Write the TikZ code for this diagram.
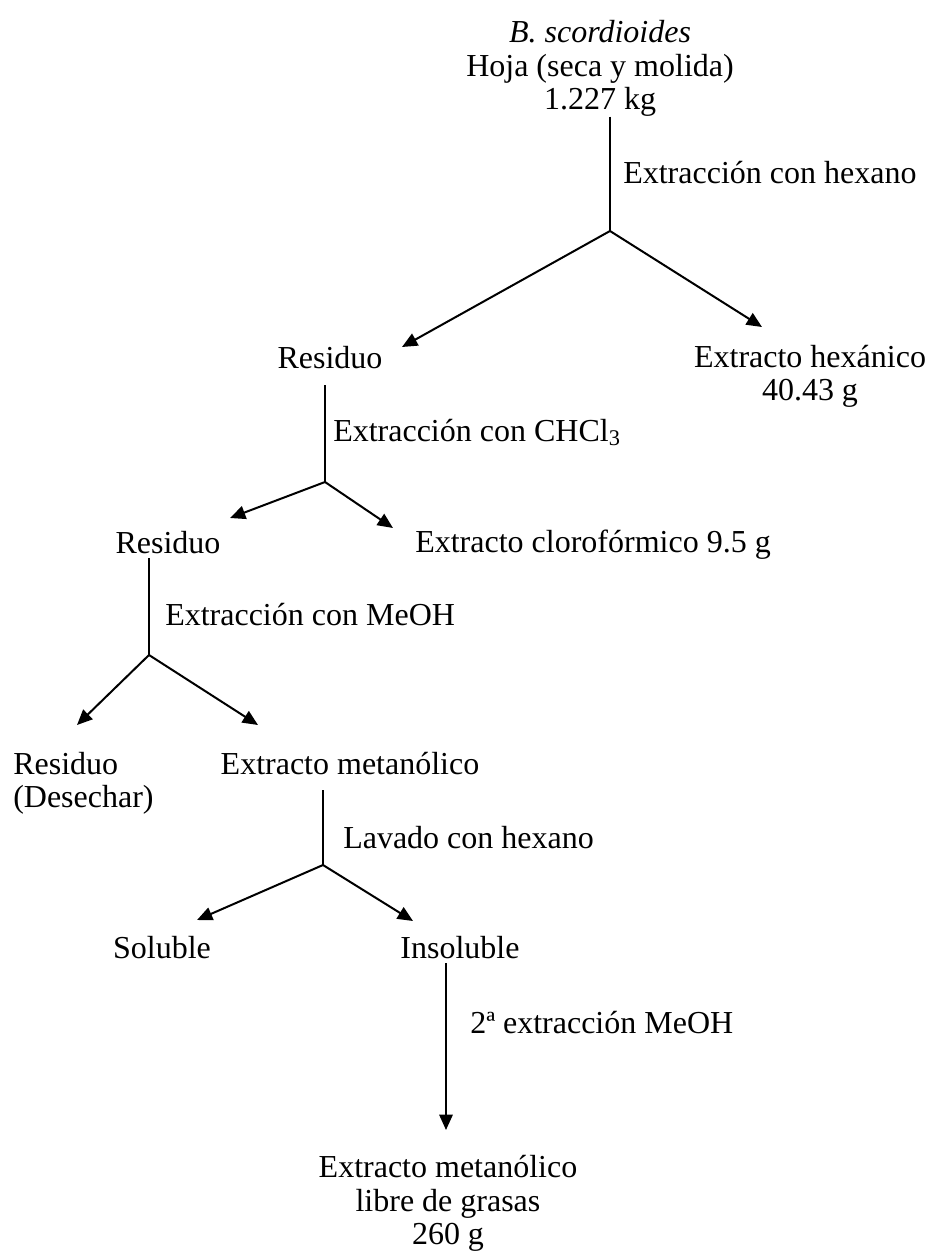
\documentclass[tikz,border=0pt]{standalone}
\usepackage{fontspec}
\setmainfont{Liberation Serif}
\usetikzlibrary{arrows.meta}
\begin{document}
\begin{tikzpicture}[x=0.75pt,y=-0.75pt,
  txt/.style={inner sep=0pt, font=\fontsize{24}{25}\selectfont, anchor=base},
  lbl/.style={inner sep=0pt, font=\fontsize{24}{25}\selectfont, anchor=base west},
  ln/.style={line width=1.5pt},
  arr/.style={line width=1.5pt, -{Triangle[length=11.5pt,width=10pt]}}]
\fill[white] (0,0) rectangle (930,1259);
\useasboundingbox (0,0) rectangle (930,1259);

% top
\node[txt, align=center, anchor=center] (top) at (600,68.5) {\textit{B. scordioides}\\Hoja (seca y molida)\\1.227 kg};
\coordinate (j1) at (610,231);
\coordinate (t1l) at (402,347);
\coordinate (t1r) at (762,327);
\draw[ln] (top.south -| j1) -- (j1);
\draw[arr] (j1) -- (t1l);
\draw[arr] (j1) -- (t1r);
\node[lbl] (l1) at (623,183) {Extracción con hexano};

\node[txt] (res1) at (330,368) {Residuo};
\node[txt, align=center, anchor=center] (hex) at (810,376.5) {Extracto hexánico\\40.43 g};

% level 2
\coordinate (s2) at (325,385);
\coordinate (j2) at (325,482);
\coordinate (t2l) at (230,518);
\coordinate (t2r) at (393,528);
\draw[ln] (s2) -- (j2);
\draw[arr] (j2) -- (t2l);
\draw[arr] (j2) -- (t2r);
\node[lbl] (l2) at (333,441) {Extracción con CHCl\textsubscript{3}};

\node[txt] (res2) at (168,553) {Residuo};
\node[lbl] (clo) at (415,552) {Extracto clorofórmico 9.5 g};

% level 3
\coordinate (s3) at (149,558);
\coordinate (j3) at (149,655);
\coordinate (t3l) at (77,725);
\coordinate (t3r) at (258,725);
\draw[ln] (s3) -- (j3);
\draw[arr] (j3) -- (t3l);
\draw[arr] (j3) -- (t3r);
\node[lbl] (l3) at (165,625) {Extracción con MeOH};

\node[txt, align=left, anchor=west] (res3) at (13,783.5) {Residuo\\(Desechar)};
\node[txt] (met) at (350,774) {Extracto metanólico};

% level 4
\coordinate (s4) at (323,790);
\coordinate (j4) at (323,865);
\coordinate (t4l) at (197,920);
\coordinate (t4r) at (413,921);
\draw[ln] (s4) -- (j4);
\draw[arr] (j4) -- (t4l);
\draw[arr] (j4) -- (t4r);
\node[lbl] (l4) at (343,848) {Lavado con hexano};

\node[txt] (sol) at (162,958) {Soluble};
\node[txt] (ins) at (460,958) {Insoluble};

% level 5
\coordinate (s5) at (446,963);
\coordinate (t5) at (446,1130);
\draw[arr] (s5) -- (t5);
\node[lbl] (l5) at (470,1033) {2ª extracción MeOH};

\node[txt, align=center, anchor=center] (fin) at (448,1203.5) {Extracto metanólico\\libre de grasas\\260 g};
\end{tikzpicture}
\end{document}
